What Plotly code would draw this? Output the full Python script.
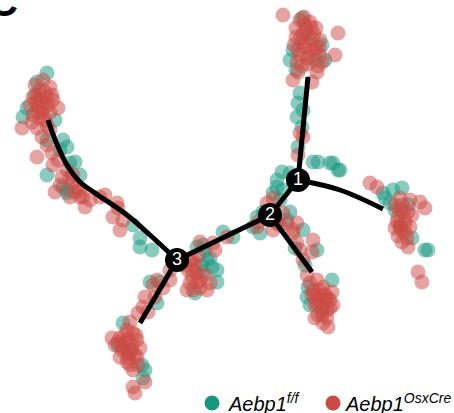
import plotly.graph_objects as go

# ---- data (component coordinates; y grows downward) ----
# cells, Aebp1 f/f
ff_pts = [
    (293,50),(322,45),(302,18),(325,60),(290,60),(315,60),(300,93),(298,103),(303,110),(297,117),
    (302,127),(298,147),(318,162),(333,163),(338,170),(282,172),(290,173),(313,162),(330,163),(308,35),(296,70),
    (383,193),(393,190),(402,188),(412,238),(425,250),(390,203),(395,210),(340,170),(428,250),(400,225),(408,205),(385,198),
    (277,180),(283,190),(273,193),(280,200),(263,212),(253,227),(260,233),(277,187),(257,217),(290,212),(287,220),
    (223,232),(233,237),(203,245),(197,247),(207,260),(212,267),(217,270),(217,282),(203,272),(195,293),(202,265),(205,250),(210,258),
    (303,230),(317,250),(295,248),(307,297),(308,287),(332,280),(322,310),(310,305),(305,265),
    (150,282),(160,282),(157,303),(123,323),(142,365),(145,370),(143,378),(118,345),
    (47,73),(37,82),(27,108),(23,117),(47,140),(63,140),(67,147),(47,175),(80,175),(63,187),(67,193),(67,190),
    (70,163),(75,162),(133,225),(140,238),(140,247),(152,250),(35,95),(55,120),(60,150),
]
# cells, Aebp1 OsxCre
cre_pts = [
    (283,15),(300,20),(310,22),(296,28),(306,30),(316,28),(300,38),(312,38),(320,40),(294,45),(305,47),(316,48),
    (300,55),(310,56),(320,55),(297,62),(308,64),(318,66),(338,33),(335,55),(298,72),(317,72),(293,80),(312,82),
    (300,133),(303,137),(298,155),(305,25),(302,42),(313,50),
    (303,33),(309,44),(298,50),(314,34),(307,58),(302,66),(319,47),(311,27),(296,37),(322,62),(304,17),
    (370,183),(377,187),(400,198),(410,200),(420,202),(425,208),(398,217),(405,220),(410,227),(400,227),(405,233),
    (402,242),(408,247),(418,272),(422,282),(395,205),(403,212),(398,236),
    (402,205),(408,212),(400,210),(405,225),(397,222),(407,238),(401,230),(412,215),(395,228),
    (267,203),(273,198),(258,222),(277,223),(287,223),(293,230),(273,230),(257,227),(283,213),(280,225),
    (227,237),(213,243),(215,250),(200,242),(198,255),(190,260),(193,260),(188,270),(197,273),(193,270),(192,277),
    (200,280),(193,290),(207,290),(210,283),(187,290),(170,270),(157,280),(185,265),(205,275),
    (195,265),(190,283),(200,288),(197,282),
    (297,223),(293,233),(297,243),(313,240),(300,250),(312,252),(303,260),(307,275),(317,280),(323,287),(313,290),
    (320,295),(328,298),(317,303),(323,307),(330,308),(318,315),(327,318),(333,305),(332,292),(323,323),(315,318),
    (328,327),(310,283),(325,300),(315,297),
    (320,290),(315,305),(325,295),(322,315),(318,300),(327,310),(312,295),(330,300),
    (153,285),(163,288),(170,280),(145,297),(155,297),(143,307),(148,312),(138,313),(130,322),(127,330),(133,333),
    (120,338),(128,340),(137,340),(115,345),(123,348),(132,350),(140,348),(120,357),(128,358),(137,357),(130,365),
    (138,365),(133,370),(133,387),(145,382),(135,393),(112,338),(125,343),(130,352),
    (125,335),(132,345),(128,353),(122,350),(135,355),(127,362),(118,342),(136,335),
    (43,80),(50,87),(40,90),(33,97),(47,97),(53,100),(30,105),(38,107),(48,105),(58,108),(33,115),(42,113),
    (32,122),(22,128),(37,128),(42,137),(47,145),(52,153),(37,157),(58,160),(53,165),(67,170),(62,177),(73,175),
    (72,183),(55,192),(80,190),(70,197),(83,197),(70,177),(77,187),(80,197),(90,200),(85,207),(100,197),(105,195),
    (117,203),(118,208),(113,217),(123,220),(120,230),(40,100),(45,120),(50,130),(60,185),(75,192),(35,85),(45,92),
    (38,95),(45,103),(36,102),(43,110),(50,112),(40,118),(47,125),(37,112),(52,95),
]
ff_x = [p[0] for p in ff_pts]
ff_y = [p[1] for p in ff_pts]
cre_x = [p[0] for p in cre_pts]
cre_y = [p[1] for p in cre_pts]

# trajectory tree (branches, each a polyline)
branches = [
    [(298,180),(308,77)],
    [(298,180),(340,190),(383,209)],
    [(298,180),(270,215)],
    [(270,215),(312,272)],
    [(270,215),(177,260)],
    [(177,260),(140,323)],
    [(177,260),(150,235),(127,215),(95,193),(80,182),(67,165),(56,142),(48,120)],
]
node_x = [298, 270, 177]
node_y = [180, 215, 260]
node_labels = ["1", "2", "3"]

group_names = ["Aebp1<sup>f/f</sup>", "Aebp1<sup>OsxCre</sup>"]
TEAL = "#16977F"
RED = "#CC4A43"

W, H = 454, 413
fig = go.Figure()

fig.add_trace(go.Scatter(x=ff_x, y=ff_y, mode="markers",
                         marker=dict(size=15, color=TEAL, opacity=0.5, line=dict(width=0)),
                         showlegend=False, hoverinfo="skip"))
fig.add_trace(go.Scatter(x=cre_x, y=cre_y, mode="markers",
                         marker=dict(size=15, color=RED, opacity=0.5, line=dict(width=0)),
                         showlegend=False, hoverinfo="skip"))

lx, ly = [], []
for b in branches:
    lx += [p[0] for p in b] + [None]
    ly += [p[1] for p in b] + [None]
fig.add_trace(go.Scatter(x=lx, y=ly, mode="lines", line=dict(color="black", width=5, shape="spline", smoothing=1.0),
                         showlegend=False, hoverinfo="skip"))
fig.add_trace(go.Scatter(x=node_x, y=node_y, mode="markers+text", text=node_labels,
                         textposition="middle center",
                         textfont=dict(color="white", size=18, family="Liberation Sans, Arial"),
                         marker=dict(size=24, color="black"),
                         showlegend=False, hoverinfo="skip"))

# legend (keys + labels)
legend_keys = [(212, 403, TEAL), (333, 403, RED)]
text_starts = [226, 343]
shapes = []
annots = []
for (cx, cy, col), tx, name in zip(legend_keys, text_starts, group_names):
    r = 7.5
    shapes.append(dict(type="circle", xref="paper", yref="paper",
                       x0=(cx - r) / W, x1=(cx + r) / W, y0=1 - (cy + r) / H, y1=1 - (cy - r) / H,
                       fillcolor=col, line=dict(width=0)))
    annots.append(dict(text="<i>" + name + "</i>", xref="paper", yref="paper", x=tx / W, y=1 - 402 / H,
                       xanchor="left", yanchor="middle", showarrow=False,
                       font=dict(size=20, color="black", family="Liberation Sans, Arial")))
# panel letter (cut off at top-left)
annots.append(dict(text="<b>C</b>", xref="paper", yref="paper", x=-13 / W, y=1 - 2 / H,
                   xanchor="left", yanchor="middle", showarrow=False,
                   font=dict(size=40, color="black", family="Liberation Sans, Arial")))

fig.update_layout(
    width=W, height=H, margin=dict(l=0, r=0, t=0, b=0),
    paper_bgcolor="white", plot_bgcolor="white",
    xaxis=dict(range=[0, W], visible=False, fixedrange=True),
    yaxis=dict(range=[H, 0], visible=False, fixedrange=True),
    shapes=shapes, annotations=annots, showlegend=False,
)
fig.write_html("out.html", config={"displayModeBar": False},
               post_script="document.body.style.margin='0';document.body.style.overflow='hidden';")
